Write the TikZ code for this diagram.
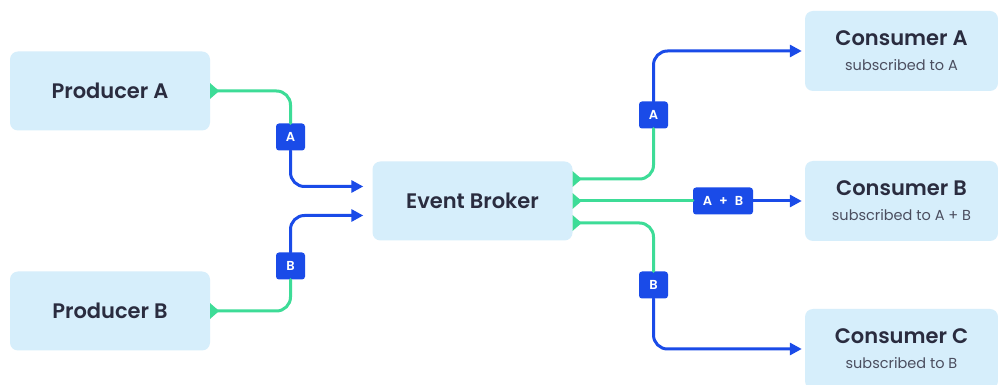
\documentclass[tikz,border=0pt]{standalone}
\usepackage{fontspec}
\setmainfont{Poppins}[BoldFont={Poppins SemiBold}]
\usetikzlibrary{arrows.meta,calc}
\definecolor{BoxFill}{HTML}{D6EEFB}
\definecolor{InkDark}{HTML}{2A2C3F}
\definecolor{InkGray}{HTML}{4B4E5F}
\definecolor{MintFlow}{HTML}{3DDC97}
\definecolor{RouteBlue}{HTML}{1A4BE8}

\begin{document}
\begin{tikzpicture}[
  x=1pt, y=1pt,
  line cap=round, line join=round,
  service/.style={fill=BoxFill, rounded corners=8pt, inner sep=0pt,
    minimum width=200pt, minimum height=79pt, text=InkDark,
    font=\bfseries\fontsize{21}{25}\selectfont},
  consumer/.style={service, minimum width=193pt, minimum height=80pt, align=center},
  tag/.style={fill=RouteBlue, rounded corners=3pt, inner sep=0pt,
    minimum width=29pt, minimum height=27pt, text=white,
    font=\bfseries\fontsize{13}{15}\selectfont},
  feed/.style={MintFlow, line width=3pt, rounded corners=14pt,
    {Triangle[reversed,length=9pt,width=15pt]}-},
  route/.style={RouteBlue, line width=3pt, rounded corners=14pt,
    -{Triangle[length=12pt,width=12pt]}}
]
\newcommand{\subline}[1]{{\mdseries\fontsize{14.5}{17}\selectfont\color{InkGray}#1}}

% Page frame
\useasboundingbox (0,0) rectangle (998,385);
\fill[white] (0,0) rectangle (998,385);

% === Services ===
\node[service] (prodA) at (110,294) {Producer A};
\node[service] (prodB) at (110,74) {Producer B};
\node[service] (broker) at (472.5,184) {Event Broker};

\node[consumer] (consA) at (901.5,334) {Consumer A\\\subline{subscribed to A}};
\node[consumer] (consB) at (901.5,184) {Consumer B\\\subline{subscribed to A + B}};
\node[consumer] (consC) at (901.5,36) {Consumer C\\\subline{subscribed to B}};

% === Event tags on the flows ===
\node[tag] (tagA1) at (290.5,248) {A};
\node[tag] (tagB1) at (290.5,119) {B};
\node[tag] (tagA2) at (653.5,270) {A};
\node[tag, minimum width=60pt] (tagAB) at (723,184) {A\hspace{7pt}+\hspace{7pt}B};
\node[tag] (tagB2) at (653.5,100) {B};

% Broker ports
\coordinate (inA) at ($(broker.west)+(0,14.5)$);
\coordinate (inB) at ($(broker.west)+(0,-14.5)$);
\coordinate (outA) at ($(broker.east)+(0,22)$);
\coordinate (outC) at ($(broker.east)+(0,-22)$);

% === Producers into the broker ===
\draw[feed] (prodA.east) -| (tagA1.north);
\draw[route, shorten >=9pt] (tagA1.south) |- (inA);
\draw[feed] (prodB.east) -| (tagB1.south);
\draw[route, shorten >=9pt] (tagB1.north) |- (inB);

% === Broker out to the consumers ===
\draw[feed] (outA) -| (tagA2.south);
\draw[route, shorten >=3pt] (tagA2.north) |- (consA.west);
\draw[feed] (broker.east) -- (tagAB.west);
\draw[route, shorten >=3pt] (tagAB.east) -- (consB.west);
\draw[feed] (outC) -| (tagB2.north);
\draw[route, shorten >=3pt] (tagB2.south) |- (consC.west);

\end{tikzpicture}
\end{document}
